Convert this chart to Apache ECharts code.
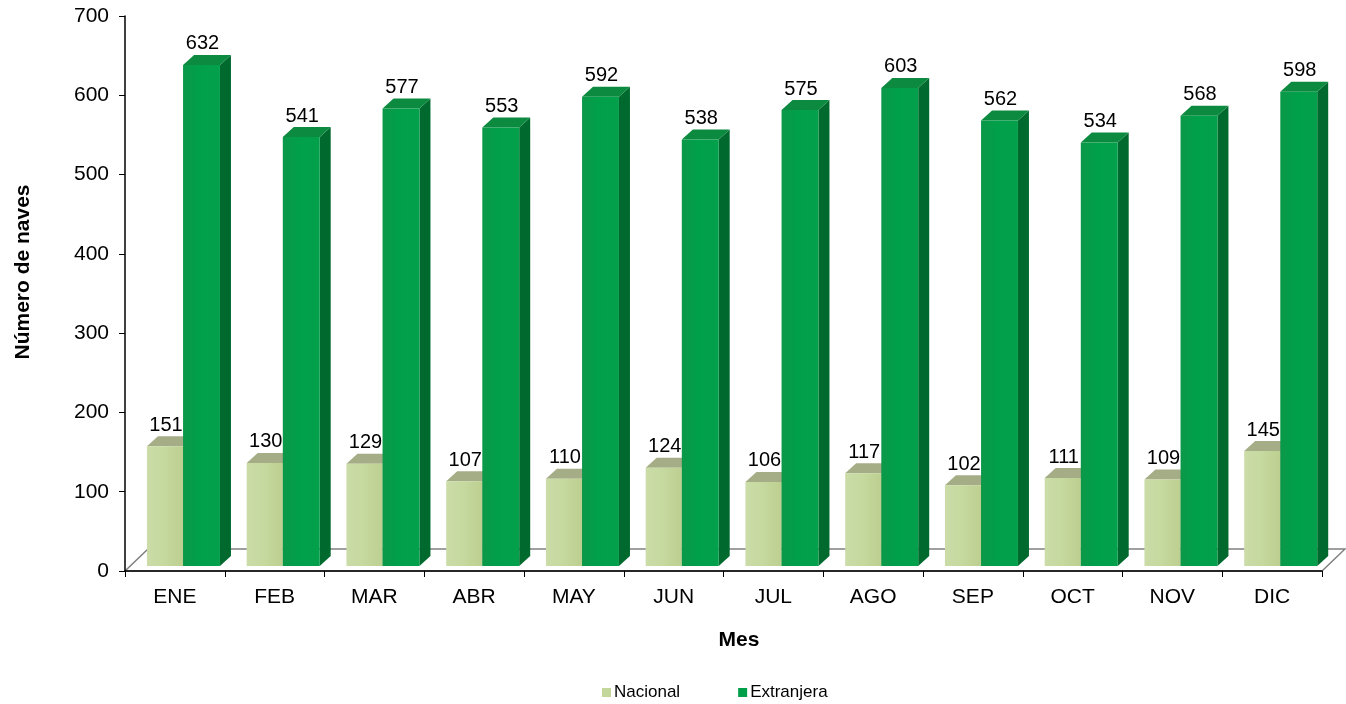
<!DOCTYPE html>
<html>
<head>
<meta charset="utf-8">
<script src="https://cdn.jsdelivr.net/npm/echarts@6/dist/echarts.min.js"></script>
<style>
html,body{margin:0;padding:0;background:#fff;}
#chart{width:1346px;height:704px;}
</style>
</head>
<body>
<div id="chart"></div>
<script>
const months = ['ENE','FEB','MAR','ABR','MAY','JUN','JUL','AGO','SEP','OCT','NOV','DIC'];
const nacional = [151,130,129,107,110,124,106,117,102,111,109,145];
const extranjera = [632,541,577,553,592,538,575,603,562,534,568,598];
const yTicks = [0,100,200,300,400,500,600,700];

const chart = echarts.init(document.getElementById('chart'));
const FONT = '"Liberation Sans", Arial, sans-serif';

// 3D bar geometry
const DX = 11, DY = -10, SHIFT = -5;

function makeRender(offFrac, widthFrac, colors, drawSide) {
  return function (params, api) {
    const i = api.value(0), v = api.value(1);
    const top = api.coord([i, v]);
    const base = api.coord([i, 0]);
    const bw = api.size([1, 0])[0];
    const x0 = top[0] + offFrac * bw;
    const w = widthFrac * bw;
    const yT = top[1] + SHIFT;
    const yB = base[1] + SHIFT;
    const children = [];
    if (drawSide) {
      children.push({
        type: 'polygon',
        shape: { points: [[x0 + w, yT], [x0 + w + DX, yT + DY], [x0 + w + DX, yB + DY], [x0 + w, yB]] },
        style: { fill: colors.side }
      });
    }
    children.push({
      type: 'polygon',
      shape: { points: [[x0, yT], [x0 + DX, yT + DY], [x0 + w + DX, yT + DY], [x0 + w, yT]] },
      style: { fill: colors.top }
    });
    children.push({
      type: 'rect',
      shape: { x: x0, y: yT, width: w, height: yB - yT },
      style: {
        fill: new echarts.graphic.LinearGradient(0, 0, 1, 0, [
          { offset: 0, color: colors.frontL },
          { offset: 0.45, color: colors.front },
          { offset: 1, color: colors.frontR }
        ])
      }
    });
    children.push({
      type: 'text',
      style: {
        text: String(v),
        x: x0 + w / 2 + 1,
        y: yT + DY - 1,
        textAlign: 'center',
        textVerticalAlign: 'bottom',
        font: '20px ' + FONT,
        fill: '#000'
      }
    });
    return { type: 'group', children: children };
  };
}

const nacColors = { front: '#c6d99f', frontL: '#cbdca8', frontR: '#bdcf90', top: '#a5ad86', side: '#9aa87a' };
const extColors = { front: '#00a04b', frontL: '#0b9848', frontR: '#04a04c', top: '#0c8a3f', side: '#006a2e' };

const option = {
  animation: false,
  backgroundColor: '#ffffff',
  grid: { left: 125, right: 24, top: 16, bottom: 133, containLabel: false },
  legend: {
    left: 597,
    top: 679,
    itemWidth: 9,
    itemHeight: 9,
    itemGap: 58,
    icon: 'rect',
    textStyle: { fontFamily: FONT, fontSize: 17, color: '#000', padding: [0, 0, 0, -2] },
    data: ['Nacional', 'Extranjera']
  },
  xAxis: {
    type: 'category',
    data: months,
    axisLine: { lineStyle: { color: '#000', width: 1.5 } },
    axisTick: { show: true, length: 6, inside: false, lineStyle: { color: '#000' } },
    axisLabel: { fontFamily: FONT, fontSize: 21, color: '#000', margin: 16 },
    z: 5
  },
  yAxis: {
    type: 'value',
    min: 0,
    max: 700,
    interval: 100,
    axisLine: { show: true, lineStyle: { color: '#000', width: 1.5 } },
    axisTick: { show: true, length: 6, lineStyle: { color: '#000' } },
    axisLabel: { fontFamily: FONT, fontSize: 21, color: '#000', margin: 16,
      formatter: function (val) { return yTicks.indexOf(val) >= 0 ? String(val) : ''; } },
    splitLine: { show: false }
  },
  series: [
    {
      name: 'Nacional',
      type: 'custom',
      itemStyle: { color: '#c4d79b' },
      renderItem: makeRender(-0.28, 0.362, nacColors, true),
      data: nacional.map((v, i) => [i, v]),
      encode: { x: 0, y: 1 },
      z: 3
    },
    {
      name: 'Extranjera',
      type: 'custom',
      itemStyle: { color: '#00a04b' },
      renderItem: makeRender(0.082, 0.37, extColors, true),
      data: extranjera.map((v, i) => [i, v]),
      encode: { x: 0, y: 1 },
      z: 4
    }
  ]
};
chart.setOption(option);

// floor decoration and axis titles, positioned from the grid
const p0 = chart.convertToPixel({ gridIndex: 0 }, [0, 0]);
const rect = chart.getModel().getComponent('grid', 0).coordinateSystem.getRect();
const xl = rect.x, xr = rect.x + rect.width, yf = p0[1];
chart.setOption({
  graphic: [
    {
      type: 'polygon',
      z: 0,
      silent: true,
      shape: { points: [[xl, yf], [xr, yf], [xr + 23, yf - 22], [xl + 23, yf - 22]] },
      style: { fill: '#ffffff', stroke: '#808080', lineWidth: 1.5 }
    },
    {
      type: 'text',
      x: 739, y: 640,
      style: { text: 'Mes', font: 'bold 21px ' + FONT, fill: '#000', textAlign: 'center', textVerticalAlign: 'middle' }
    },
    {
      type: 'text',
      x: 23, y: 272,
      rotation: Math.PI / 2,
      style: { text: 'Número de naves', font: 'bold 21px ' + FONT, fill: '#000', textAlign: 'center', textVerticalAlign: 'middle' }
    }
  ]
});
</script>
</body>
</html>
